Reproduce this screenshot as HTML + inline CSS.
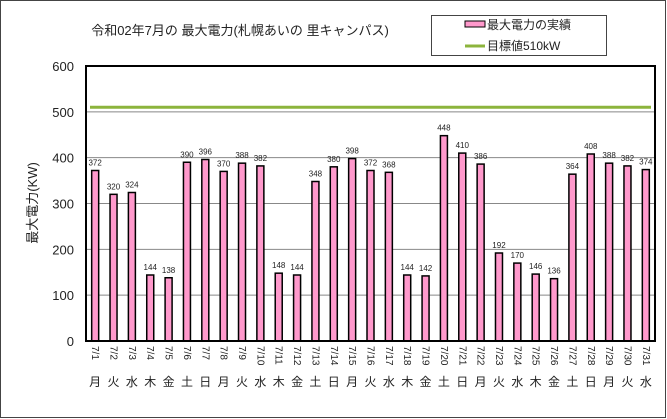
<!DOCTYPE html>
<html><head><meta charset="utf-8"><style>
body{margin:0;background:#fff;}
svg{display:block;font-family:"Liberation Sans","Noto Sans CJK JP",sans-serif;}
</style></head><body>
<svg id="c" width="667" height="419" viewBox="0 0 667 419">
<rect x="0.5" y="0.5" width="665" height="417" fill="#fff" stroke="#444"/>
<text x="240" y="35" font-size="13" text-anchor="middle" fill="#222">令和02年7月の 最大電力(札幌あいの 里キャンパス)</text>
<g>
<rect x="431.5" y="15.5" width="175" height="40" fill="#fff" stroke="#444"/>
<g><rect x="465" y="21" width="20" height="6" fill="#ff99cc" stroke="#000"/><text x="487" y="29" font-size="12" fill="#222">最大電力の実績</text></g>
<g><line x1="465" y1="46" x2="485" y2="46" stroke="#8cb43c" stroke-width="3"/><text x="487" y="50" font-size="12" fill="#222">目標値510kW</text></g>
</g>
<text transform="translate(37,203) rotate(-90)" font-size="13" text-anchor="middle" fill="#222">最大電力(KW)</text>
<g id="plot"></g>
</svg>
<script>
const categories=["7/1","7/2","7/3","7/4","7/5","7/6","7/7","7/8","7/9","7/10","7/11","7/12","7/13","7/14","7/15","7/16","7/17","7/18","7/19","7/20","7/21","7/22","7/23","7/24","7/25","7/26","7/27","7/28","7/29","7/30","7/31"];
const weekdays=["月","火","水","木","金","土","日","月","火","水","木","金","土","日","月","火","水","木","金","土","日","月","火","水","木","金","土","日","月","火","水"];
const values=[372,320,324,144,138,390,396,370,388,382,148,144,348,380,398,372,368,144,142,448,410,386,192,170,146,136,364,408,388,382,374];
const target=510;
const yTicks=[0,100,200,300,400,500,600];
const X0=86,X1=655,Y0=341,Y1=66,YMAX=600;
const ns="http://www.w3.org/2000/svg";
const g=document.getElementById("plot");
const bw=(X1-X0)/categories.length;
const y=v=>Y0-(v/YMAX)*(Y0-Y1);
const x=i=>X0+bw*(i+0.5);
function mk(t,a){const e=document.createElementNS(ns,t);for(const k in a)e.setAttribute(k,a[k]);g.appendChild(e);return e;}
let bg=mk("rect",{x:X0,y:Y1,width:X1-X0,height:Y0-Y1,fill:"#fff"});


yTicks.forEach(t=>{
 if(t>0&&t<YMAX){const l=mk("line",{x1:X0,x2:X1,y1:y(t),y2:y(t),stroke:"#888","stroke-width":1});
 
 }
 const tx=mk("text",{x:X0-12,y:y(t)+5,"font-size":13,"text-anchor":"end",fill:"#222"});tx.textContent=t;
 
 
});
const tl=mk("line",{x1:X0+4,x2:X1-4,y1:y(target),y2:y(target),stroke:"#8cb43c","stroke-width":3});


values.forEach((v,i)=>{
 const b=mk("rect",{x:x(i)-3.5,y:y(v),width:7,height:Y0-y(v),fill:"#ff99cc",stroke:"#000","stroke-width":1.5});
 
 
 const lb=mk("text",{x:x(i),y:y(v)-5,"font-size":8,"text-anchor":"middle",fill:"#222"});lb.textContent=v;
 
 
 const d=mk("text",{transform:`translate(${x(i)-3},346) rotate(90)`,"font-size":10,fill:"#222"});d.textContent=categories[i];
 
 
 const w=mk("text",{x:x(i),y:386,"font-size":12,"text-anchor":"middle",fill:"#222"});w.textContent=weekdays[i];
 
 
});
const fr=mk("rect",{x:X0,y:Y1,width:X1-X0,height:Y0-Y1,fill:"none",stroke:"#000","stroke-width":2});


</script>
</body></html>
